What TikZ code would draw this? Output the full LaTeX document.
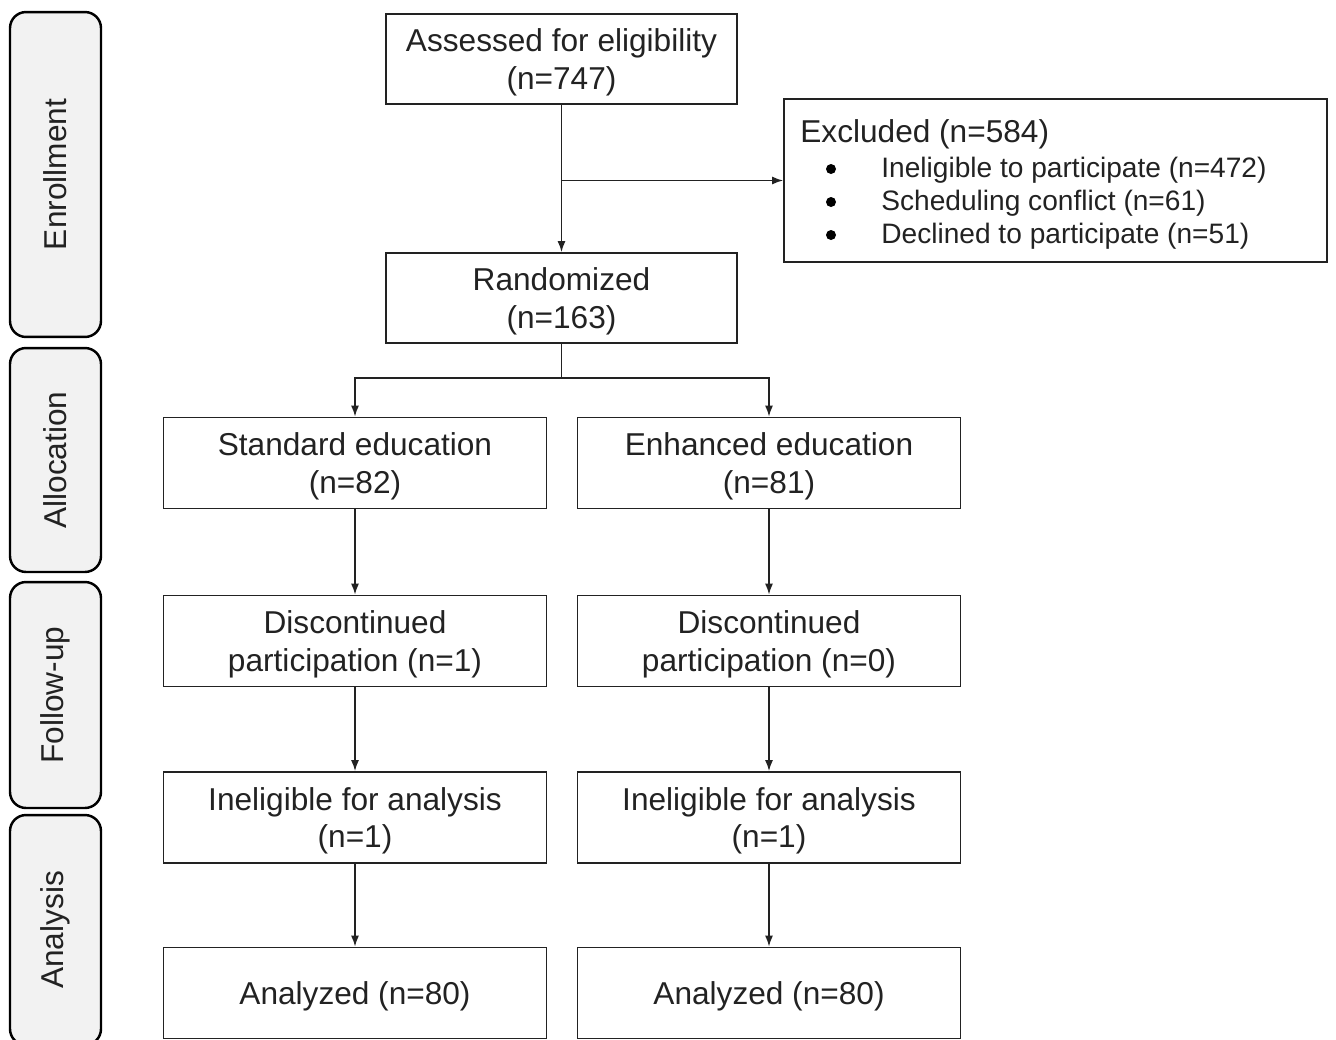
\documentclass[tikz,border=0pt]{standalone}
\usepackage{fontspec}
\setmainfont{Liberation Sans}
\usepackage{tikz}
\usetikzlibrary{shapes, arrows.meta, positioning}
\usetikzlibrary{calc}
\definecolor{phasegray}{HTML}{F2F2F2}
\definecolor{inkgray}{HTML}{222222}
\newcommand{\itemsize}{\fontsize{16}{19}\selectfont}

\begin{document}
\begin{tikzpicture}
  [
    x=0.02cm, y=-0.02cm,
    Box/.style={rectangle, draw=inkgray, line width=1pt, align=center, text=inkgray,
      font=\fontsize{18}{21.5}\selectfont, inner sep=2pt, text depth=0pt},
    Top/.style={Box, minimum width=7.02cm, minimum height=1.8cm},
    Arm/.style={Box, minimum width=7.66cm, minimum height=1.82cm},
    Phase/.style={rectangle, rounded corners=0.32cm, draw=black, line width=1.4pt, fill=phasegray,
      rotate=90, minimum height=1.82cm, text=inkgray, font=\fontsize{18}{21.5}\selectfont},
    Txt/.style={inner sep=0pt, anchor=west, text=inkgray},
    Arr/.style={draw=inkgray, line width=0.9pt, -{Latex[length=2.2mm, width=1.6mm]}}
  ]
  \useasboundingbox (0,0) rectangle (1336,1039);

  % Phases
  \node[Phase, minimum width=6.5cm] (enrol) at (55.5, 174.5) {Enrollment};
  \node[Phase, minimum width=4.48cm] (alloc) at (55.5, 460) {Allocation};
  \node[Phase, minimum width=4.52cm] (follow) at (55.5, 695) {Follow-up};
  \node[Phase, minimum width=4.6cm] (analysis) at (55.5, 930) {Analysis};

  % Nodes
  \node[Top] (assess) at (561.5, 59) {Assessed for eligibility\\(n=747)};
  \node[Top] (rand) at (561.5, 298) {Randomized\\(n=163)};

  \node[Box, minimum width=10.86cm, minimum height=3.26cm] (excl) at (1055.5, 180.5) {};
  \node[Txt, font=\fontsize{18}{21.5}\selectfont] (exhead) at (800, 134) {Excluded (n=584)};
  \node[Txt, font=\itemsize] (exi1) at (881, 170) {Ineligible to participate (n=472)};
  \node[Txt, font=\itemsize] (exi2) at (881, 203) {Scheduling conflict (n=61)};
  \node[Txt, font=\itemsize] (exi3) at (881, 236) {Declined to participate (n=51)};
  \foreach \yy in {169, 202, 235}
    \fill[black] (831, \yy) circle (0.1cm);

  \node[Arm] (std) at (355, 463) {Standard education\\(n=82)};
  \node[Arm] (enh) at (769, 463) {Enhanced education\\(n=81)};
  \node[Arm] (disc1) at (355, 641) {Discontinued\\participation (n=1)};
  \node[Arm] (disc2) at (769, 641) {Discontinued\\participation (n=0)};
  \node[Arm] (inel1) at (355, 817.5) {Ineligible for analysis\\(n=1)};
  \node[Arm] (inel2) at (769, 817.5) {Ineligible for analysis\\(n=1)};
  \node[Arm] (anal1) at (355, 993) {Analyzed (n=80)};
  \node[Arm] (anal2) at (769, 993) {Analyzed (n=80)};

  % Connectors
  \coordinate (split) at (561.5, 378);
  \draw[Arr] (assess) -- (rand);
  \draw[Arr] (assess.south |- excl.west) -- (excl.west);
  \draw[draw=inkgray, line width=0.9pt] (rand) -- (split);
  \draw[Arr] (split) -| (std.north);
  \draw[Arr] (split) -| (enh.north);
  \draw[Arr] (std) -- (disc1);
  \draw[Arr] (enh) -- (disc2);
  \draw[Arr] (disc1) -- (inel1);
  \draw[Arr] (disc2) -- (inel2);
  \draw[Arr] (inel1) -- (anal1);
  \draw[Arr] (inel2) -- (anal2);

\end{tikzpicture}
\end{document}
